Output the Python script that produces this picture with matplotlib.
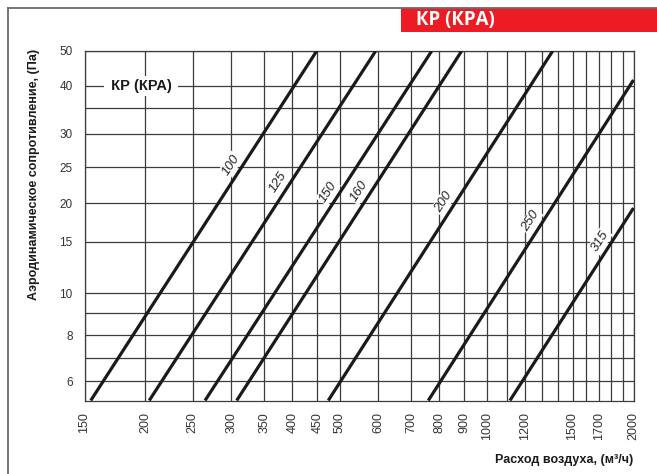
import numpy as np
import matplotlib.pyplot as plt
from matplotlib.lines import Line2D
from matplotlib.patches import Rectangle

plt.rcParams['font.family'] = ['Liberation Sans', 'DejaVu Sans']

# диаметры и концы прямых (расход м3/ч, давление Па)
diameters = ['100', '125', '150', '160', '200', '250', '315']
flow_start = [154.5, 203.6, 264.9, 307.6, 473.8, 759.5, 1116.6]
flow_end = [448.6, 592.6, 771.8, 889.0, 1365.9, 2000, 2000]
dp_start = [5.25, 5.25, 5.25, 5.25, 5.25, 5.25, 5.25]
dp_end = [50, 50, 50, 50, 50, 41.5, 19.3]

x_ticks = [150, 200, 250, 300, 350, 400, 450, 500, 600, 700, 800, 900, 1000, 1200, 1500, 1700, 2000]
x_extra = [1100, 1300, 1400, 1600, 1800, 1900]
y_ticks = [6, 8, 10, 15, 20, 25, 30, 40, 50]
y_extra = [7, 9, 35]

# шкала давления в оригинале не строго логарифмическая
y_knots = [5.25, 6, 7, 8, 9, 10, 15, 20, 25, 30, 35, 40, 50]
y_pos = [0, 19.5, 42.2, 65.5, 87.2, 107.2, 158.8, 197.2, 233.2, 266.5, 292.2, 314.8, 349.5]


def fwd(v):
    v = np.clip(np.asarray(v, dtype=float), 1e-3, None)
    return np.interp(np.log(v), np.log(y_knots), y_pos)


def inv(p):
    return np.exp(np.interp(p, y_pos, np.log(y_knots)))


# положение подписей вдоль прямых (доля длины)
label_frac = [0.658, 0.608, 0.581, 0.583, 0.551, 0.542, 0.799]

fig = plt.figure(figsize=(6.57, 4.74), dpi=100)
ax = fig.add_axes([84.5 / 657, 73.5 / 474, 549 / 657, 349.5 / 474])

ax.set_xscale('log')
ax.set_yscale('function', functions=(fwd, inv))
ax.set_xlim(150, 2000)
ax.set_ylim(5.25, 50)

ax.set_xticks(x_ticks, labels=[str(v) for v in x_ticks])
ax.set_xticks(x_extra, minor=True, labels=['' for v in x_extra])
ax.set_yticks(y_ticks, labels=[str(v) for v in y_ticks])
ax.set_yticks(y_extra, minor=True, labels=['' for v in y_extra])
ax.tick_params(axis='x', which='both', length=0, pad=8.3, labelrotation=90,
               labelsize=9, labelcolor='#333333')
ax.tick_params(axis='y', which='both', length=0, pad=8.6,
               labelsize=8.5, labelcolor='#333333')
ax.set_axisbelow(True)
ax.grid(which='both', color='#3c3c3c', lw=0.9)
for s in ax.spines.values():
    s.set_color('#3c3c3c')
    s.set_linewidth(0.9)

for i in range(len(diameters)):
    ax.plot([flow_start[i], flow_end[i]], [dp_start[i], dp_end[i]],
            color='#1a1a1a', lw=2.3, solid_capstyle='butt', zorder=4)

# подписи диаметров
for i in range(len(diameters)):
    d0 = ax.transData.transform((flow_start[i], dp_start[i]))
    d1 = ax.transData.transform((flow_end[i], dp_end[i]))
    pt = ax.transData.inverted().transform(d0 + label_frac[i] * (d1 - d0))
    ang = np.degrees(np.arctan2(d1[1] - d0[1], d1[0] - d0[0]))
    off = 7.5
    nx, ny = -np.sin(np.radians(ang)), np.cos(np.radians(ang))
    ax.annotate(diameters[i], xy=pt, xytext=(nx * off, ny * off),
                textcoords='offset points', rotation=ang, rotation_mode='anchor',
                ha='center', va='center', fontsize=9.5, style='italic',
                color='#222222', zorder=3,
                bbox=dict(boxstyle='square,pad=0.1', fc='white', ec='none'))

ax.text(0.103, 40, ' КР (КРА) ', transform=ax.get_yaxis_transform(),
        ha='center', va='center', fontsize=10.5, fontweight='bold', color='#1a1a1a',
        zorder=3, bbox=dict(boxstyle='square,pad=0.2', fc='white', ec='none'))

ax.set_ylabel('Аэродинамическое сопротивление, (Па)', fontsize=9, fontweight='bold',
              color='#1a1a1a')
ax.yaxis.set_label_coords(-(84.5 - 40) / 549, (400.5 - 174) / 349.5)
ax.set_xlabel('Расход воздуха, (м³/ч)', fontsize=9, fontweight='bold', color='#1a1a1a',
              ha='right')
ax.xaxis.set_label_coords(1.0, -(460 - 400.5) / 349.5)
ax.xaxis.label.set_va('center')

# рамка и красная плашка
fig.add_artist(Line2D([8 / 657, 1], [1 - 8 / 474, 1 - 8 / 474], transform=fig.transFigure,
                      color='#6b6b6b', lw=1.3))
fig.add_artist(Line2D([8 / 657, 8 / 657], [1 - 8 / 474, 0], transform=fig.transFigure,
                      color='#6b6b6b', lw=1.3))
fig.add_artist(Rectangle((401 / 657, 1 - 32 / 474), 256 / 657, 24 / 474,
                         transform=fig.transFigure, color='#ed1c24', lw=0))
fig.text(416 / 657, 1 - 20.5 / 474, 'КР (КРА)', family='Open Sans', fontweight='bold',
         fontsize=13.5, color='white', ha='left', va='center')

fig.savefig('out.png', dpi=100)
